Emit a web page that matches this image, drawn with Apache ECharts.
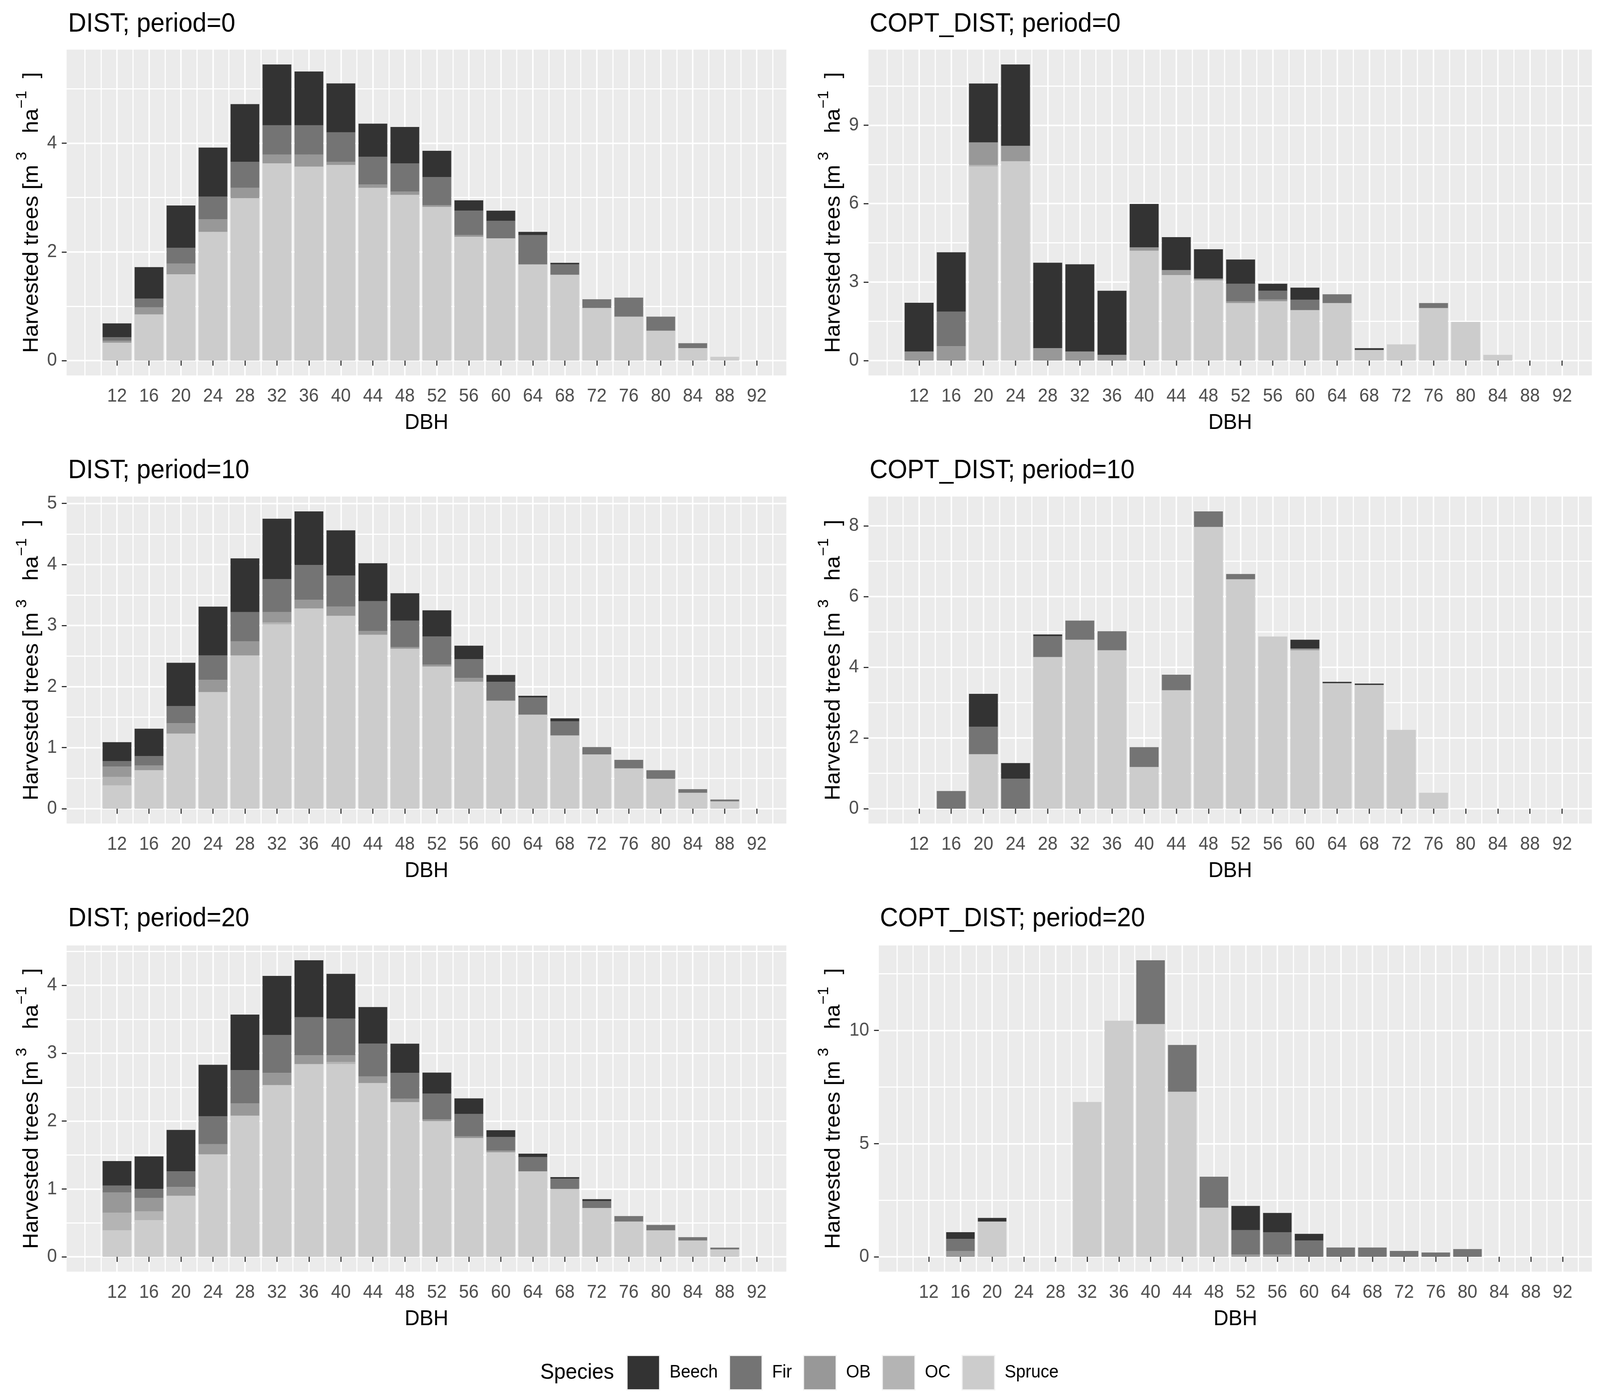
<!DOCTYPE html>
<html><head><meta charset="utf-8">
<script src="https://cdn.jsdelivr.net/npm/echarts@6/dist/echarts.min.js"></script>
<style>html,body{margin:0;padding:0;background:#fff;overflow:hidden}#c{width:4324px;height:3581px;transform-origin:0 0}</style>
</head><body><div id="c"></div>
<script>
// ---------- categories / ticks ----------
const DBH = [12,16,20,24,28,32,36,40,44,48,52,56,60,64,68,72,76,80,84,88,92];
const SPECIES = ['Beech','Fir','OB','OC','Spruce'];
const STACK_ORDER = ['Spruce','OC','OB','Fir','Beech'];
const SPECIES_COLORS = {Beech:'#333333', Fir:'#747474', OB:'#989898', OC:'#B4B4B4', Spruce:'#CCCCCC'};
const X_TICKS = [12,16,20,24,28,32,36,40,44,48,52,56,60,64,68,72,76,80,84,88,92];
const X_MINOR = [8,10,14,18,22,26,30,34,38,42,46,50,54,58,62,66,70,74,78,82,86,90,94];

// ---------- DIST; period=0 ----------
const dist0_spruce = [0.33,0.85,1.59,2.37,2.99,3.63,3.57,3.60,3.18,3.05,2.83,2.28,2.25,1.77,1.58,0.97,0.81,0.55,0.23,0.07,0];
const dist0_oc     = [0,0,0,0,0,0,0,0,0,0,0,0,0,0,0,0,0,0,0,0,0];
const dist0_ob     = [0.035,0.13,0.195,0.23,0.19,0.16,0.22,0.06,0.06,0.06,0.03,0.03,0,0,0,0,0,0,0,0,0];
const dist0_fir    = [0.065,0.16,0.29,0.42,0.48,0.54,0.54,0.54,0.51,0.52,0.52,0.45,0.32,0.54,0.19,0.16,0.35,0.26,0.09,0,0];
const dist0_beech  = [0.255,0.58,0.78,0.90,1.06,1.12,0.99,0.90,0.61,0.67,0.48,0.19,0.19,0.06,0.03,0,0,0,0,0,0];

// ---------- COPT_DIST; period=0 ----------
const copt0_spruce = [0,0,7.42,7.62,0,0,0,4.20,3.27,3.07,2.20,2.27,1.93,2.20,0.41,0.62,2.01,1.48,0.22,0,0];
const copt0_oc     = [0,0,0.06,0,0,0,0,0,0,0,0,0,0,0,0,0,0,0,0,0,0];
const copt0_ob     = [0.35,0.55,0.86,0.59,0.48,0.35,0.22,0.13,0.19,0.065,0.065,0.065,0,0,0,0,0,0,0,0,0];
const copt0_fir    = [0,1.32,0,0,0,0,0,0,0,0,0.67,0.335,0.40,0.335,0,0,0.19,0,0,0,0];
const copt0_beech  = [1.86,2.27,2.25,3.11,3.26,3.33,2.45,1.66,1.26,1.12,0.93,0.27,0.46,0,0.065,0,0,0,0,0,0];

// ---------- DIST; period=10 ----------
const dist10_spruce = [0.38,0.63,1.23,1.91,2.51,3.02,3.28,3.16,2.85,2.62,2.33,2.08,1.77,1.54,1.20,0.89,0.66,0.49,0.26,0.12,0];
const dist10_oc     = [0.14,0,0,0,0,0.03,0,0,0,0,0,0,0,0,0,0,0,0,0,0,0];
const dist10_ob     = [0.17,0.08,0.17,0.20,0.23,0.17,0.14,0.15,0.06,0.03,0.03,0.06,0,0,0,0,0,0,0,0,0];
const dist10_fir    = [0.09,0.15,0.28,0.40,0.48,0.54,0.57,0.51,0.49,0.43,0.46,0.31,0.31,0.28,0.23,0.12,0.14,0.14,0.06,0.03,0];
const dist10_beech  = [0.31,0.45,0.71,0.80,0.88,0.99,0.88,0.74,0.62,0.45,0.43,0.22,0.11,0.03,0.05,0,0,0,0,0,0];

// ---------- COPT_DIST; period=10 ----------
const copt10_spruce = [0,0,1.54,0,4.29,4.78,4.48,1.18,3.35,7.97,6.49,4.87,4.48,3.55,3.50,2.23,0.45,0,0,0,0];
const copt10_oc     = [0,0,0,0,0,0,0,0,0,0,0,0,0,0,0,0,0,0,0,0,0];
const copt10_ob     = [0,0,0,0,0,0,0,0,0,0,0,0,0.05,0,0,0,0,0,0,0,0];
const copt10_fir    = [0,0.50,0.78,0.85,0.59,0.54,0.54,0.56,0.44,0.44,0.15,0,0,0,0,0,0,0,0,0,0];
const copt10_beech  = [0,0,0.93,0.44,0.05,0,0,0,0,0,0,0,0.25,0.04,0.04,0,0,0,0,0,0];

// ---------- DIST; period=20 ----------
const dist20_spruce = [0.39,0.54,0.90,1.51,2.08,2.53,2.84,2.84,2.56,2.28,2.00,1.75,1.54,1.26,1.00,0.72,0.52,0.39,0.24,0.11,0];
const dist20_oc     = [0.26,0.13,0,0,0,0,0,0.03,0,0,0,0,0,0,0,0,0,0,0,0,0];
const dist20_ob     = [0.30,0.20,0.13,0.15,0.18,0.18,0.13,0.10,0.10,0.05,0.025,0.025,0.025,0,0,0,0,0,0,0,0];
const dist20_fir    = [0.10,0.13,0.23,0.41,0.49,0.56,0.56,0.54,0.48,0.38,0.38,0.33,0.20,0.21,0.15,0.10,0.08,0.08,0.05,0.025,0];
const dist20_beech  = [0.36,0.48,0.61,0.76,0.82,0.87,0.84,0.66,0.54,0.43,0.31,0.23,0.10,0.05,0.025,0.03,0,0,0,0,0];

// ---------- COPT_DIST; period=20 ----------
const copt20_spruce = [0,0,1.56,0,0,6.84,10.43,10.28,7.29,2.17,0,0,0,0,0,0,0,0,0,0,0];
const copt20_oc     = [0,0,0,0,0,0,0,0,0,0,0,0,0,0,0,0,0,0,0,0,0];
const copt20_ob     = [0,0.26,0,0,0,0,0,0,0,0,0.10,0.10,0,0,0,0,0,0,0,0,0];
const copt20_fir    = [0,0.53,0,0,0,0,0,2.82,2.07,1.37,1.08,0.99,0.715,0.41,0.41,0.26,0.19,0.34,0,0,0];
const copt20_beech  = [0,0.30,0.16,0,0,0,0,0,0,0,1.07,0.85,0.30,0,0,0,0,0,0,0,0];

// ---------- y tick labels per panel ----------
const Y_TICKS_DIST0   = [0,2,4];
const Y_MINOR_DIST0   = [1,3,5];
const Y_TICKS_COPT0   = [0,3,6,9];
const Y_MINOR_COPT0   = [1.5,4.5,7.5,10.5];
const Y_TICKS_DIST10  = [0,1,2,3,4,5];
const Y_MINOR_DIST10  = [0.5,1.5,2.5,3.5,4.5];
const Y_TICKS_COPT10  = [0,2,4,6,8];
const Y_MINOR_COPT10  = [1,3,5,7];
const Y_TICKS_DIST20  = [0,1,2,3,4];
const Y_MINOR_DIST20  = [0.5,1.5,2.5,3.5,4.5];
const Y_TICKS_COPT20  = [0,5,10];
const Y_MINOR_COPT20  = [2.5,7.5,12.5];

const TITLES = ['DIST; period=0','COPT_DIST; period=0','DIST; period=10','COPT_DIST; period=10','DIST; period=20','COPT_DIST; period=20'];

// ---------- layout (positions only) ----------
const FONT = '"Liberation Sans", Arial, sans-serif';
const X_MIN = 5.7, X_MAX = 95.7;
const panels = [
  {data:{Spruce:dist0_spruce,OC:dist0_oc,OB:dist0_ob,Fir:dist0_fir,Beech:dist0_beech}, yt:Y_TICKS_DIST0, ym:Y_MINOR_DIST0,
   grid:{left:180,top:127,width:1945,height:834}, tl:184, tt:28},
  {data:{Spruce:copt0_spruce,OC:copt0_oc,OB:copt0_ob,Fir:copt0_fir,Beech:copt0_beech}, yt:Y_TICKS_COPT0, ym:Y_MINOR_COPT0,
   grid:{left:2347,top:127,width:1955,height:834}, tl:2350, tt:28},
  {data:{Spruce:dist10_spruce,OC:dist10_oc,OB:dist10_ob,Fir:dist10_fir,Beech:dist10_beech}, yt:Y_TICKS_DIST10, ym:Y_MINOR_DIST10,
   grid:{left:180,top:1271,width:1945,height:837}, tl:184, tt:1171},
  {data:{Spruce:copt10_spruce,OC:copt10_oc,OB:copt10_ob,Fir:copt10_fir,Beech:copt10_beech}, yt:Y_TICKS_COPT10, ym:Y_MINOR_COPT10,
   grid:{left:2347,top:1271,width:1955,height:837}, tl:2350, tt:1171},
  {data:{Spruce:dist20_spruce,OC:dist20_oc,OB:dist20_ob,Fir:dist20_fir,Beech:dist20_beech}, yt:Y_TICKS_DIST20, ym:Y_MINOR_DIST20,
   grid:{left:180,top:2420,width:1945,height:835}, tl:184, tt:2318},
  {data:{Spruce:copt20_spruce,OC:copt20_oc,OB:copt20_ob,Fir:copt20_fir,Beech:copt20_beech}, yt:Y_TICKS_COPT20, ym:Y_MINOR_COPT20,
   grid:{left:2375,top:2420,width:1927,height:835}, tl:2378, tt:2318}
];

const Y_NAME = '{a|Harvested trees [m}{s| 3}{a|   ha}{s|−1}{a|  ]}';

// fit the 4324x3581 drawing exactly into the viewport the browser really has
(function(){
  const el = document.getElementById('c');
  const sx = window.innerWidth / 4324, sy = window.innerHeight / 3581;
  if (sx > 0 && sy > 0 && (Math.abs(sx - 1) > 0.001 || Math.abs(sy - 1) > 0.001)) {
    el.style.transform = 'scale(' + sx + ',' + sy + ')';
  }
})();

const grids = [], xAxes = [], yAxes = [], series = [], titles = [];
panels.forEach((p, i) => {
  grids.push(Object.assign({show:true, backgroundColor:'#EBEBEB', borderWidth:0, containLabel:false}, p.grid));
  let mx = 0;
  DBH.forEach((d, k) => { let s = 0; STACK_ORDER.forEach(sp => s += p.data[sp][k]); mx = Math.max(mx, s); });
  const yMin = -0.05 * mx, yMax = 1.05 * mx;

  xAxes.push({
    gridIndex:i, type:'value', min:X_MIN, max:X_MAX, position:'bottom',
    axisLine:{show:false},
    axisTick:{show:true, length:13, lineStyle:{color:'#333333', width:3}, customValues:X_TICKS},
    axisLabel:{show:true, customValues:X_TICKS, margin:30, fontSize:48, color:'#4D4D4D', fontFamily:FONT},
    splitLine:{show:true, lineStyle:{color:'#FFFFFF', width:4}},
    name:'DBH', nameLocation:'middle', nameGap:94,
    nameTextStyle:{fontSize:56, color:'#000000', fontFamily:FONT}
  });
  xAxes.push({
    gridIndex:i, type:'value', min:X_MIN, max:X_MAX, position:'top',
    axisLine:{show:false}, axisLabel:{show:false},
    axisTick:{show:false, customValues:X_MINOR},
    splitLine:{show:true, lineStyle:{color:'#FFFFFF', width:3}}
  });
  yAxes.push({
    gridIndex:i, type:'value', min:yMin, max:yMax, position:'left',
    axisLine:{show:false},
    axisTick:{show:true, length:13, lineStyle:{color:'#333333', width:3}, customValues:p.yt},
    axisLabel:{show:true, customValues:p.yt, margin:26, fontSize:48, color:'#4D4D4D', fontFamily:FONT},
    splitLine:{show:true, lineStyle:{color:'#FFFFFF', width:4}},
    name:Y_NAME, nameLocation:'middle', nameRotate:90, nameGap:(i===5?76:48),
    nameTextStyle:{fontFamily:FONT, color:'#000000', rich:{
      a:{fontSize:57, fontFamily:FONT, color:'#000000'},
      s:{fontSize:40, fontFamily:FONT, color:'#000000', padding:[0,0,52,0]}
    }}
  });
  yAxes.push({
    gridIndex:i, type:'value', min:yMin, max:yMax, position:'right',
    axisLine:{show:false}, axisLabel:{show:false},
    axisTick:{show:false, customValues:p.ym},
    splitLine:{show:true, lineStyle:{color:'#FFFFFF', width:3}}
  });
  STACK_ORDER.forEach(sp => {
    series.push({
      type:'bar', name:sp, xAxisIndex:2*i, yAxisIndex:2*i, stack:'panel'+i,
      barWidth:'90%', itemStyle:{color:SPECIES_COLORS[sp]},
      encode:{x:1, y:0},
      data:DBH.map((d, k) => [p.data[sp][k], d])
    });
  });
  titles.push({text:TITLES[i], left:p.tl, top:p.tt, padding:0,
    textStyle:{fontSize:68, fontWeight:'normal', color:'#000000', fontFamily:FONT, lineHeight:68}});
});
titles.push({text:'Species', left:1460, top:3486, padding:0,
  textStyle:{fontSize:56, fontWeight:'normal', color:'#000000', fontFamily:FONT, lineHeight:56}});

const chart = echarts.init(document.getElementById('c'), null, {renderer:'canvas'});
chart.setOption({
  animation:false,
  backgroundColor:'#FFFFFF',
  title:titles,
  legend:{data:SPECIES, left:1688, top:3463, orient:'horizontal', itemWidth:88, itemHeight:88, itemGap:30,
    icon:'rect', textStyle:{fontSize:46, color:'#000000', fontFamily:FONT, padding:[0,0,0,22]},
    itemStyle:{borderColor:'#F2F2F2', borderWidth:3}},
  grid:grids, xAxis:xAxes, yAxis:yAxes, series:series
});
</script></body></html>
